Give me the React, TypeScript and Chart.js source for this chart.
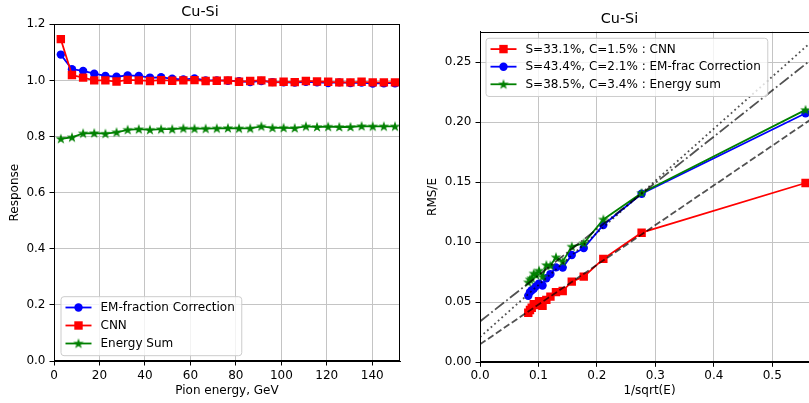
import React, { useEffect, useRef } from 'react';
import { Chart, registerables } from 'chart.js';

Chart.register(...registerables);

// ---------------- data ----------------
const TITLE = 'Cu-Si';

// Left panel: response vs pion energy
const energies = [3, 7.9, 12.8, 17.7, 22.6, 27.5, 32.4, 37.3, 42.2, 47.1, 52, 56.9, 61.8, 66.7, 71.6, 76.5, 81.4, 86.3, 91.2, 96.1, 101, 105.9, 110.8, 115.7, 120.6, 125.5, 130.4, 135.3, 140.2, 145.1, 150];
const respEM = [1.092, 1.040, 1.034, 1.024, 1.016, 1.013, 1.018, 1.016, 1.010, 1.011, 1.006, 1.003, 1.007, 1.000, 1.000, 0.999, 0.997, 0.994, 0.998, 0.994, 0.993, 0.992, 0.995, 0.993, 0.991, 0.993, 0.991, 0.992, 0.989, 0.990, 0.990];
const respCNN = [1.147, 1.019, 1.010, 1.000, 1.000, 0.996, 1.002, 1.000, 0.998, 1.001, 0.999, 1.000, 1.001, 0.998, 0.999, 1.000, 0.995, 0.998, 1.000, 0.993, 0.995, 0.994, 0.998, 0.996, 0.995, 0.993, 0.993, 0.995, 0.993, 0.993, 0.993];
const respSum = [0.792, 0.797, 0.811, 0.812, 0.810, 0.815, 0.824, 0.826, 0.824, 0.826, 0.826, 0.829, 0.828, 0.828, 0.829, 0.830, 0.829, 0.829, 0.836, 0.831, 0.831, 0.830, 0.836, 0.834, 0.835, 0.834, 0.834, 0.837, 0.836, 0.836, 0.836];
const leftLabels = ['EM-fraction Correction', 'CNN', 'Energy Sum'];
const leftXTicks = [0, 20, 40, 60, 80, 100, 120, 140];
const leftYTicks = [0, 0.2, 0.4, 0.6, 0.8, 1.0, 1.2];

// Right panel: resolution vs 1/sqrt(E)
const invSqrtE = [0.557, 0.2765, 0.211, 0.1775, 0.157, 0.1415, 0.130, 0.1205, 0.1135, 0.107, 0.101, 0.096, 0.092, 0.0885, 0.0855, 0.0826];
const resCNN = [0.1494, 0.108, 0.0862, 0.0714, 0.0672, 0.0594, 0.0585, 0.0547, 0.0520, 0.0470, 0.0510, 0.0478, 0.0485, 0.0455, 0.0436, 0.0413];
const resEM = [0.2075, 0.1405, 0.1144, 0.0952, 0.0894, 0.0789, 0.0791, 0.0735, 0.0700, 0.0640, 0.0656, 0.0635, 0.0612, 0.0600, 0.0585, 0.0555];
const resSum = [0.2103, 0.1411, 0.1190, 0.0992, 0.0964, 0.0839, 0.0875, 0.0806, 0.0810, 0.0714, 0.0764, 0.0728, 0.0740, 0.0700, 0.0690, 0.0667];
const rightLabels = ['S=33.1%, C=1.5% : CNN', 'S=43.4%, C=2.1% : EM-frac Correction', 'S=38.5%, C=3.4% : Energy sum'];
const fitS = [0.331, 0.434, 0.385];
const fitC = [0.015, 0.021, 0.034];
const fitX = [0, 0.58];
const rightXTicks = [0, 0.1, 0.2, 0.3, 0.4, 0.5];
const rightYTicks = [0, 0.05, 0.1, 0.15, 0.2, 0.25];

// ---------------- styling helpers ----------------
const FAMILY = '"DejaVu Sans", sans-serif';
const RED = '#ff0000';
const BLUE = '#0000ff';
const GREEN = '#008000';
const GRID = '#c4c4c4';
const FIT = 'rgba(0,0,0,0.68)';
const LW = 1.8;

type Marker = 'circle' | 'rect' | 'star';

function makeStar(color: string): HTMLCanvasElement {
  const c = document.createElement('canvas');
  c.width = 12;
  c.height = 12;
  const g = c.getContext('2d')!;
  const R = 3.8;
  g.beginPath();
  for (let k = 0; k < 10; k++) {
    const r = k % 2 === 0 ? R : R * 0.381966;
    const ang = -Math.PI / 2 + (k * Math.PI) / 5;
    const px = 6 + r * Math.cos(ang);
    const py = 6.3 + r * Math.sin(ang);
    if (k === 0) g.moveTo(px, py);
    else g.lineTo(px, py);
  }
  g.closePath();
  g.fillStyle = color;
  g.fill();
  g.strokeStyle = color;
  g.lineWidth = 1.1;
  g.lineJoin = 'miter';
  g.stroke();
  return c;
}

function drawMarker(ctx: CanvasRenderingContext2D, m: Marker, x: number, y: number, color: string, star: HTMLCanvasElement) {
  ctx.fillStyle = color;
  if (m === 'circle') {
    ctx.beginPath();
    ctx.arc(x, y, 4.2, 0, Math.PI * 2);
    ctx.fill();
  } else if (m === 'rect') {
    ctx.fillRect(x - 4.2, y - 4.2, 8.4, 8.4);
  } else {
    ctx.drawImage(star, x - 6, y - 6);
  }
}

type LegItem = { label: string; color: string; marker: Marker };

function legendPlugin(items: LegItem[], corner: 'upper' | 'lower', offX: number, offY: number, rowH: number, star: HTMLCanvasElement) {
  return {
    id: 'boxLegend',
    afterDraw(chart: any) {
      const ctx: CanvasRenderingContext2D = chart.ctx;
      const a = chart.chartArea;
      ctx.save();
      ctx.font = `12px ${FAMILY}`;
      const textW = Math.max(...items.map((i) => ctx.measureText(i.label).width));
      const topPad = 10.8;
      const w = 39.5 + textW + 7;
      const h = topPad + rowH * (items.length - 1) + 12.2;
      const x = a.left + offX;
      const y = corner === 'upper' ? a.top + offY : a.bottom - offY - h;
      const r = 3;
      ctx.beginPath();
      ctx.moveTo(x + r, y);
      ctx.lineTo(x + w - r, y);
      ctx.arcTo(x + w, y, x + w, y + r, r);
      ctx.lineTo(x + w, y + h - r);
      ctx.arcTo(x + w, y + h, x + w - r, y + h, r);
      ctx.lineTo(x + r, y + h);
      ctx.arcTo(x, y + h, x, y + h - r, r);
      ctx.lineTo(x, y + r);
      ctx.arcTo(x, y, x + r, y, r);
      ctx.closePath();
      ctx.fillStyle = 'rgba(255,255,255,0.8)';
      ctx.fill();
      ctx.strokeStyle = '#cccccc';
      ctx.lineWidth = 1;
      ctx.stroke();
      items.forEach((it, i) => {
        const cy = y + topPad + i * rowH;
        ctx.strokeStyle = it.color;
        ctx.lineWidth = LW;
        ctx.beginPath();
        ctx.moveTo(x + 4.5, cy);
        ctx.lineTo(x + 30.5, cy);
        ctx.stroke();
        drawMarker(ctx, it.marker, x + 17.5, cy, it.color, star);
        ctx.fillStyle = '#000';
        ctx.textAlign = 'left';
        ctx.textBaseline = 'middle';
        ctx.fillText(it.label, x + 39.5, cy + 0.5);
      });
      ctx.restore();
    },
  };
}

const framePlugin = {
  id: 'frame',
  afterDatasetsDraw(chart: any) {
    const ctx: CanvasRenderingContext2D = chart.ctx;
    const a = chart.chartArea;
    ctx.save();
    ctx.strokeStyle = '#000';
    ctx.lineWidth = 1;
    const l = Math.round(a.left) + 0.5;
    const t = Math.round(a.top) + 0.5;
    const r = Math.round(a.right) - 0.5;
    const b = Math.round(a.bottom) - 0.5;
    ctx.strokeRect(l, t, r - l, b - t);
    ctx.restore();
  },
};

function font(size = 12) {
  return { family: FAMILY, size, weight: 'normal' as const, lineHeight: 1.2 };
}

function axisCommon(ticks: number[], fmt: (v: number) => string, pad: number) {
  return {
    type: 'linear' as const,
    afterBuildTicks: (s: any) => {
      s.ticks = ticks.map((v) => ({ value: v }));
    },
    ticks: {
      callback: (v: any) => fmt(Number(v)),
      font: font(12),
      color: '#000',
      padding: pad,
      maxRotation: 0,
      autoSkip: false,
    },
    grid: {
      color: GRID,
      lineWidth: 1,
      drawTicks: true,
      tickLength: 4.5,
      tickColor: '#000',
      tickWidth: 1,
    },
    border: { display: true, color: '#000', width: 1 },
  };
}

function series(label: string, xs: number[], ys: number[], color: string, marker: Marker, star: HTMLCanvasElement, order: number) {
  const style: any = marker === 'star' ? star : marker;
  return {
    label,
    data: xs.map((x, i) => ({ x, y: ys[i] })),
    borderColor: color,
    backgroundColor: color,
    borderWidth: LW,
    pointStyle: style,
    pointRadius: marker === 'rect' ? 5.95 : 4.2,
    pointBackgroundColor: color,
    pointBorderColor: color,
    pointBorderWidth: 0,
    tension: 0,
    order,
  };
}

export default function App() {
  const leftRef = useRef<HTMLCanvasElement>(null);
  const rightRef = useRef<HTMLCanvasElement>(null);

  useEffect(() => {
    const star = makeStar(GREEN);

    const left = new Chart(leftRef.current!, {
      type: 'line',
      data: {
        datasets: [
          series(leftLabels[0], energies, respEM, BLUE, 'circle', star, 2),
          series(leftLabels[1], energies, respCNN, RED, 'rect', star, 1),
          series(leftLabels[2], energies, respSum, GREEN, 'star', star, 0),
        ] as any,
      },
      options: {
        animation: false,
        responsive: false,
        events: [],
        layout: { padding: { left: 0, right: 12, top: 0, bottom: 0 } },
        plugins: {
          legend: { display: false },
          tooltip: { enabled: false },
          title: {
            display: true,
            text: TITLE,
            color: '#000',
            font: font(14.4),
            padding: { top: 3.5, bottom: 3.5 },
          },
        },
        scales: {
          x: {
            ...axisCommon(leftXTicks, (v) => String(v), 3.3),
            min: 0,
            max: 152.2,
            afterFit: (s: any) => {
              s.height = 42;
            },
            title: {
              display: true,
              text: 'Pion energy, GeV',
              color: '#000',
              font: font(12),
              padding: { top: 0, bottom: 4.8 },
            },
          },
          y: {
            ...axisCommon(leftYTicks, (v) => v.toFixed(1), 4),
            min: 0,
            max: 1.2,
            afterFit: (s: any) => {
              s.width = 54;
            },
            title: {
              display: true,
              text: 'Response',
              color: '#000',
              font: font(12),
              padding: { top: 7.3, bottom: 0 },
            },
          },
        } as any,
      },
      plugins: [
        framePlugin,
        legendPlugin(
          [
            { label: leftLabels[0], color: BLUE, marker: 'circle' },
            { label: leftLabels[1], color: RED, marker: 'rect' },
            { label: leftLabels[2], color: GREEN, marker: 'star' },
          ],
          'lower',
          7,
          5.3,
          18,
          star
        ),
      ],
    });

    const fitStyles = [
      { dash: [6.7, 2.9] },
      { dash: [1.8, 3.0] },
      { dash: [11.5, 2.9, 1.8, 2.9] },
    ];
    const fitSets = fitS.map((s, k) => ({
      label: 'fit' + k,
      data: fitX.map((x) => ({ x, y: fitC[k] + s * x })),
      borderColor: FIT,
      borderWidth: LW,
      borderDash: fitStyles[k].dash,
      pointRadius: 0,
      tension: 0,
      order: -1,
    }));

    const right = new Chart(rightRef.current!, {
      type: 'line',
      data: {
        datasets: [
          series(rightLabels[0], invSqrtE, resCNN, RED, 'rect', star, 2),
          series(rightLabels[1], invSqrtE, resEM, BLUE, 'circle', star, 1),
          series(rightLabels[2], invSqrtE, resSum, GREEN, 'star', star, 0),
          ...fitSets,
        ] as any,
      },
      options: {
        animation: false,
        responsive: false,
        events: [],
        layout: { padding: { left: 0, right: 21, top: 0, bottom: 0 } },
        plugins: {
          legend: { display: false },
          tooltip: { enabled: false },
          title: {
            display: true,
            text: TITLE,
            color: '#000',
            font: font(14.4),
            padding: { top: 10.5, bottom: 3.9 },
          },
        },
        scales: {
          x: {
            ...axisCommon(rightXTicks, (v) => v.toFixed(1), 2),
            min: 0,
            max: 0.58,
            afterFit: (s: any) => {
              s.height = 40.7;
            },
            title: {
              display: true,
              text: '1/sqrt(E)',
              color: '#000',
              font: font(12),
              padding: { top: 0, bottom: 4.8 },
            },
          },
          y: {
            ...axisCommon(rightYTicks, (v) => v.toFixed(2), 4),
            min: 0,
            max: 0.2755,
            afterFit: (s: any) => {
              s.width = 60;
            },
            title: {
              display: true,
              text: 'RMS/E',
              color: '#000',
              font: font(12),
              padding: { top: 5.6, bottom: 0 },
            },
          },
        } as any,
      },
      plugins: [
        framePlugin,
        legendPlugin(
          [
            { label: rightLabels[0], color: RED, marker: 'rect' },
            { label: rightLabels[1], color: BLUE, marker: 'circle' },
            { label: rightLabels[2], color: GREEN, marker: 'star' },
          ],
          'upper',
          6,
          6.6,
          17.6,
          star
        ),
      ],
    });

    return () => {
      left.destroy();
      right.destroy();
    };
  }, []);

  return (
    <div
      style={{
        position: 'fixed',
        left: 0,
        top: 0,
        width: 809,
        height: 403,
        overflow: 'hidden',
        background: '#fff',
      }}
    >
      <canvas
        ref={leftRef}
        width={412}
        height={403}
        style={{ position: 'absolute', left: 0, top: 0, width: 412, height: 403 }}
      />
      <canvas
        ref={rightRef}
        width={420}
        height={403}
        style={{ position: 'absolute', left: 420, top: 0, width: 420, height: 403 }}
      />
    </div>
  );
}
